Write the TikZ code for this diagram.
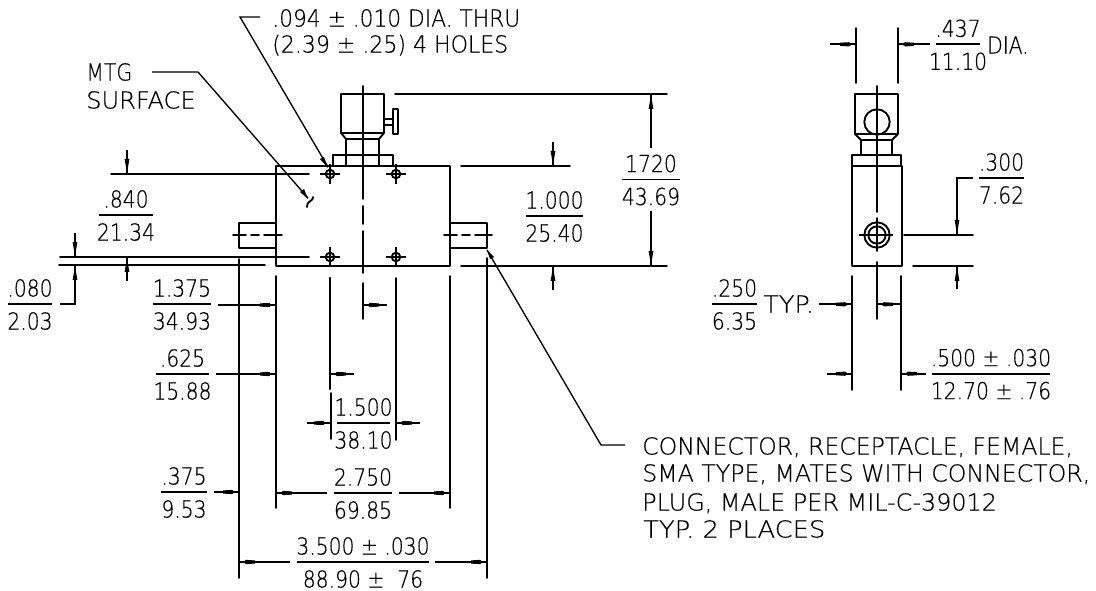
\documentclass[tikz,border=0pt]{standalone}
\usepackage{fontspec}
\setmainfont{DejaVu Sans}[UprightFont={* ExtraLight},FakeBold=.35]
\newfontfamily\digf{DejaVu Sans}[UprightFont={* ExtraLight},FakeBold=.35,FakeStretch=.87]
\newcommand\hdm[3]{\pgfmathsetmacro\sgn{(#3>#2)?1:-1}%
 \draw[thn] (#2,#1)--(#3,#1);
 \fill ({#3-\sgn*4},#1)--({#3-\sgn*7},#1-2.1)--({#3-\sgn*16},#1-1.6)--({#3-\sgn*16},#1+1.6)--({#3-\sgn*7},#1+2.1)--cycle;}
\newcommand\vdm[3]{\pgfmathsetmacro\sgn{(#3>#2)?1:-1}%
 \draw[thn] (#1,#2)--(#1,#3);
 \fill (#1,{#3-\sgn*1})--(#1-2.4,{#3-\sgn*15})--(#1+2.4,{#3-\sgn*15})--cycle;}
\newcommand\fr[6]{\draw[bar] (#2,#1)--(#3,#1);
 \node[txt,font=\digfs] at ({(#2+#3)/2},#1-16) {#4};
 \node[txt,font=\digfs] at ({(#2+#3)/2},#1+17) {#5};}
\newcommand\digfs{\digf\fontsize{17.5pt}{20pt}\selectfont}
\newcommand\fw[2]{\resizebox{#1}{\height}{#2}}
\begin{document}
\begin{tikzpicture}[x=0.75pt,y=-0.75pt,
 ln/.style={line width=1.4pt,line cap=round,line join=round},
 thn/.style={line width=1.25pt},
 bar/.style={line width=1.25pt},
 thinl/.style={line width=1pt},
 txt/.style={inner sep=0,text height=12.76pt,text depth=0pt,font=\fontsize{17.5pt}{20pt}\selectfont},
 ltxt/.style={txt,anchor=west}]
\useasboundingbox (0,0) rectangle (1096,591);
% front view
\draw[ln] (276,166) rectangle (450,266);
\draw[ln] (333,166)--(333,155)--(393,155)--(393,166);
\draw[ln] (346,166)--(346,139)--(379,139)--(379,166);
\draw[ln] (341,94) rectangle (384,133);
\draw[ln] (341,133)--(346,139) (384,133)--(379,139);
\draw[ln] (384,119)--(393,119) (384,125)--(393,125);
\draw[ln] (393,109) rectangle (398,134);
\draw[ln] (276,223)--(239,223)--(239,248)--(276,248);
\draw[ln] (450,223)--(487,223)--(487,248)--(450,248);
\draw[ln] (233,235)--(246,235) (251,235)--(259,235) (264,235)--(282,235);
\draw[ln] (444,235)--(457,235) (462,235)--(470,235) (475,235)--(492,235);
\draw[ln] (363,86)--(363,199) (363,206)--(363,224) (363,231)--(363,273) (363,283)--(363,319);
\foreach \hx/\hy in {330/174,396/174,330/257,396/257}{
 \draw[ln] (\hx,\hy) circle (4.3);
 \draw[thn] (\hx-10,\hy)--(\hx+10,\hy) (\hx,\hy-10)--(\hx,\hy+10);}
% leaders
\draw[thinl] (152,72)--(198,72)--(308,198);
\fill (308,199)--(300,192)--(304,189)--cycle;
\draw[ln] (313,197) .. controls (314,201) and (306,201) .. (307,207);
\draw[thinl] (260,17)--(240,17)--(328,167);
\fill (328,168)--(320,159)--(324,157)--cycle;
\draw[thinl] (487,250)--(601,445)--(625,445);
\fill (487,250)--(494,257)--(490,259)--cycle;
% extension lines, front
\draw[ln] (111,174)--(309,174) (60,257)--(309,257) (59,265)--(265,265);
\draw[ln] (395,94)--(667,94) (461,166)--(570,166) (461,266)--(667,266);
\draw[ln] (276,276)--(276,508) (450,276)--(450,508);
\draw[ln] (239,259)--(239,578) (487,258)--(487,578);
\draw[line width=1.7pt,line cap=round] (330,278)--(330,389);
\draw[ln] (331,393)--(331,439) (396,278)--(396,440);
% dims front
\vdm{127}{150}{174} \vdm{127}{281}{257}
\vdm{75}{233}{257}
\draw[thn] (60,304)--(75,304)--(75,280);
\vdm{75}{285}{265}
\vdm{553}{142}{166} \vdm{553}{290}{266}
\vdm{651}{148}{94} \vdm{651}{211}{266}
\hdm{305}{387}{363}
\hdm{374}{354}{330}
\hdm{423}{307}{330} \hdm{423}{420}{396}
\hdm{493}{327}{276} \hdm{493}{399}{450}
\hdm{562}{290}{239} \hdm{562}{435}{487}
\hdm{305}{218}{276} \hdm{374}{216}{276} \hdm{492}{214}{239}
% side view
\draw[ln] (852,155) rectangle (901,166);
\draw[ln] (852,166)--(852,266)--(902,266)--(902,166);
\draw[ln] (861,155)--(861,140)--(892,140)--(892,155);
\draw[ln] (855,94) rectangle (898,134);
\draw[ln] (855,134)--(861,140) (898,134)--(892,140);
\draw[ln] (877,122) circle (12.7);
\draw[ln] (877,235) circle (12.7) (877,235) circle (8.7);
\draw[thn] (859,235)--(893,235);
\draw[ln] (877,86)--(877,212) (877,218)--(877,251) (877,262)--(877,319);
\draw[ln] (856,28)--(856,83) (898,28)--(898,83);
\hdm{44.3}{830}{856} \hdm{44.3}{930}{898}
\draw[ln] (904,235)--(973,235) (913,266)--(973,266);
\draw[thn] (973,178)--(957,178)--(957,220);
\vdm{957}{210}{235} \vdm{957}{289}{266}
\draw[ln] (852,276)--(852,390) (901,276)--(901,390);
\hdm{304.3}{819}{852} \hdm{304.3}{901}{877}
\hdm{373.7}{827}{852} \hdm{373.7}{926}{901}
% fractions
\fr{304}{8}{52}{.080}{2.03}{}
\fr{215}{99}{153}{.840}{21.34}{}
\fr{304}{153}{211}{1.375}{34.93}{}
\fr{374}{156}{209}{.625}{15.88}{}
\fr{492}{161}{207}{.375}{9.53}{}
\fr{423}{337}{390}{1.500}{38.10}{}
\fr{493}{334}{392}{2.750}{69.85}{}
\fr{562}{297}{429}{3.500 ± .030}{88.90 ±\ \ 76}{}
\fr{216}{526}{583}{1.000}{25.40}{}
\fr{179.5}{622}{680}{1720}{43.69}{}
\fr{44.3}{936}{980}{.437}{11.10}{}
\fr{178}{979}{1024}{.300}{7.62}{}
\fr{304}{712}{757}{.250}{6.35}{}
\fr{373.7}{932}{1050}{.500 ± .030}{12.70 ± .76}{}
% texts
\node[ltxt] at (987,45) {\fw{31pt}{DIA.}};
\node[ltxt] at (763,304) {\fw{38pt}{TYP.}};
\node[ltxt] at (86,72) {\fw{34.5pt}{MTG}};
\node[ltxt] at (86,100) {\fw{82pt}{SURFACE}};
\node[ltxt] at (272,18) {\fw{186pt}{.094 ± .010 DIA. THRU}};
\node[ltxt] at (272,44) {\fw{177pt}{(2.39 ± .25) 4 HOLES}};
\node[ltxt] at (642,446) {\fw{323pt}{CONNECTOR, RECEPTACLE, FEMALE,}};
\node[ltxt] at (642,473) {\fw{336pt}{SMA TYPE, MATES WITH CONNECTOR,}};
\node[ltxt] at (642,502) {\fw{266pt}{PLUG, MALE PER MIL-C-39012}};
\node[ltxt] at (643,529) {\fw{136.5pt}{TYP. 2 PLACES}};
\end{tikzpicture}
\end{document}
